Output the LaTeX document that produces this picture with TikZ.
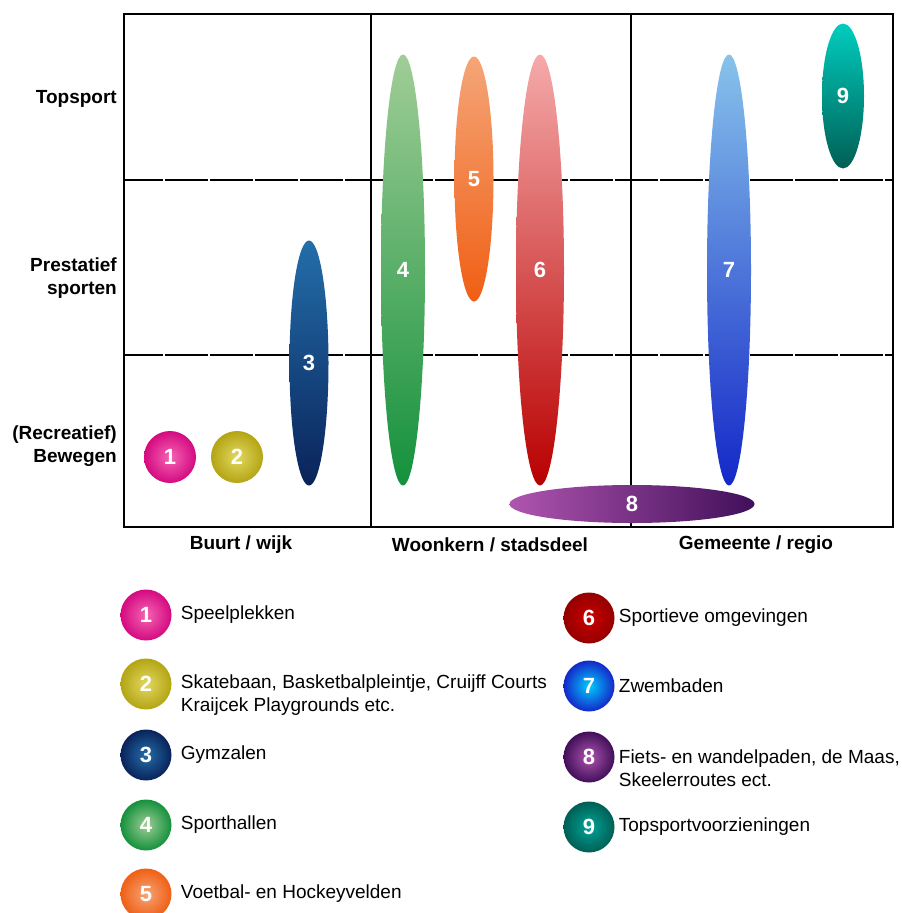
\documentclass[tikz,border=0pt]{standalone}
\usepackage{fontspec}
\setmainfont{Liberation Sans}
\usepackage{xcolor}
\usepackage{tikz}
\usetikzlibrary{shapes.geometric,positioning}

\definecolor{pinkA}{RGB}{245,100,180}
\definecolor{pinkB}{RGB}{212,10,128}
\definecolor{oliveA}{RGB}{226,216,96}
\definecolor{oliveB}{RGB}{180,165,20}
\definecolor{navyA}{RGB}{35,110,170}
\definecolor{navyB}{RGB}{10,35,90}
\definecolor{greenA}{RGB}{160,205,150}
\definecolor{greenB}{RGB}{20,145,60}
\definecolor{orangeA}{RGB}{245,165,120}
\definecolor{orangeB}{RGB}{240,95,20}
\definecolor{redA}{RGB}{245,170,170}
\definecolor{redB}{RGB}{185,0,0}
\definecolor{blueA}{RGB}{135,195,235}
\definecolor{blueB}{RGB}{20,40,200}
\definecolor{purpleA}{RGB}{175,85,175}
\definecolor{purpleB}{RGB}{65,15,90}
\definecolor{tealA}{RGB}{0,205,190}
\definecolor{tealB}{RGB}{0,95,85}

\begin{document}
\begin{tikzpicture}[
    x=1pt, y=-1pt,
    frame/.style={line width=2.4pt},
    gridline/.style={line width=2.2pt, dash pattern=on 43pt off 2pt, dash phase=4pt},
    blob/.style={ellipse, inner sep=0pt, text=white, font=\bfseries\fontsize{22}{22}\selectfont},
    ball/.style={circle, minimum size=51pt, inner sep=0pt, text=white, font=\bfseries\fontsize{22}{22}\selectfont},
    rowlabel/.style={anchor=east, align=right, inner sep=0pt, font=\bfseries\fontsize{19}{23}\selectfont},
    collabel/.style={inner sep=0pt, font=\bfseries\fontsize{19}{23}\selectfont},
    legtext/.style={align=left, inner sep=0pt, font=\fontsize{19}{23}\selectfont},
]
    \useasboundingbox (0,0) rectangle (902,913);

    % grid
    \draw[gridline] (124,180) -- (893,180);
    \draw[gridline] (124,355) -- (893,355);
    \draw[frame] (371,14) -- (371,527);
    \draw[frame] (631,14) -- (631,527);
    \draw[frame] (124,14) rectangle (893,527);

    % row and column labels
    \node[rowlabel] (top) at (117,99) {Topsport};
    \node[rowlabel] (prest) at (117,278) {Prestatief\\sporten};
    \node[rowlabel] (recr) at (117,446) {(Recreatief)\\Bewegen};
    \node[collabel] (buurt) at (241,545) {Buurt / wijk};
    \node[collabel] (woon) at (490,545) {Woonkern / stadsdeel};
    \node[collabel] (gem) at (756,545) {Gemeente / regio};

    % facilities
    \node[blob, circle, minimum size=52pt, inner color=pinkA, outer color=pinkB] (e1) at (170,457) {1};
    \node[blob, circle, minimum size=52pt, inner color=oliveA, outer color=oliveB] (e2) at (237,457) {2};
    \node[blob, minimum width=39pt, minimum height=245pt, top color=navyA, bottom color=navyB] (e3) at (309,363) {3};
    \node[blob, minimum width=44pt, minimum height=431pt, top color=greenA, bottom color=greenB] (e4) at (403,270) {4};
    \node[blob, minimum width=39pt, minimum height=245pt, top color=orangeA, bottom color=orangeB] (e5) at (474,179) {5};
    \node[blob, minimum width=48pt, minimum height=431pt, top color=redA, bottom color=redB] (e6) at (540,270) {6};
    \node[blob, minimum width=44pt, minimum height=431pt, top color=blueA, bottom color=blueB] (e7) at (729,270) {7};
    \node[blob, minimum width=245pt, minimum height=38pt, left color=purpleA, right color=purpleB] (e8) at (632,504) {8};
    \node[blob, minimum width=42pt, minimum height=145pt, top color=tealA, bottom color=tealB] (e9) at (843,96) {9};

    % legend
    \node[ball, inner color=pinkA, outer color=pinkB] (l1) at (146,615) {1};
    \node[ball, inner color=oliveA, outer color=oliveB] (l2) at (146,684) {2};
    \node[ball, inner color=navyA, outer color=navyB] (l3) at (146,755) {3};
    \node[ball, inner color=greenA, outer color=greenB] (l4) at (146,825) {4};
    \node[ball, inner color=orangeA, outer color=orangeB] (l5) at (146,894) {5};
    \node[ball, inner color=red!80!black, outer color=redB!80!black] (l6) at (589,618) {6};
    \node[ball, inner color=cyan!80!blue, outer color=blueB] (l7) at (589,686) {7};
    \node[ball, inner color=purpleA, outer color=purpleB] (l8) at (589,757) {8};
    \node[ball, inner color=tealA!80!black, outer color=tealB] (l9) at (589,827) {9};

    \node[legtext, right=9pt of l1] (t1) {Speelplekken};
    \node[legtext, right=9pt of l2, yshift=-11.5pt] (t2) {Skatebaan, Basketbalpleintje, Cruijff Courts\\Kraijcek Playgrounds etc.};
    \node[legtext, right=9pt of l3] (t3) {Gymzalen};
    \node[legtext, right=9pt of l4] (t4) {Sporthallen};
    \node[legtext, right=9pt of l5] (t5) {Voetbal- en Hockeyvelden};
    \node[legtext, right=4pt of l6] (t6) {Sportieve omgevingen};
    \node[legtext, right=4pt of l7] (t7) {Zwembaden};
    \node[legtext, right=4pt of l8, yshift=-11.5pt] (t8) {Fiets- en wandelpaden, de Maas,\\Skeelerroutes ect.};
    \node[legtext, right=4pt of l9] (t9) {Topsportvoorzieningen};
\end{tikzpicture}
\end{document}
